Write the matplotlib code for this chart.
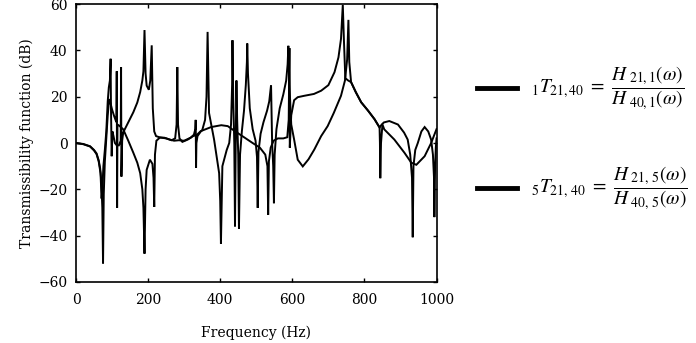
import matplotlib.pyplot as plt
from matplotlib.lines import Line2D

plt.rcParams['font.family'] = 'DejaVu Serif'
plt.rcParams['mathtext.fontset'] = 'stix'

# (frequency Hz, transmissibility dB) vertices for each curve
curve1 = [(0, 0), (20, -0.4), (39, -1.4), (50, -3), (57, -4.5), (63, -7.5), (67, -11),
          (70, -16), (73, -28), (75, -52), (77, -22), (80, -8), (84, 2), (88, 12), (92, 19),
          (96, 17), (100, 14.5), (106, 11.5), (112, 9), (113, 31), (114, -28), (115, 8),
          (120, 7.5), (131, 5.9), (145, 1), (159, -4.2), (170, -8.5), (178, -13), (184, -20),
          (187, -28), (190, -47.8), (193, -20), (196, -11.6), (205, -7.2), (212, -9), (215, -15),
          (217, -27.6), (219, -5), (223, 1), (233, 2.4), (245, 2.3), (260, 1.5), (272, 1),
          (285, 1.2), (300, 1), (318, 2.3), (327, 3.6), (331, 6), (332, 10), (333, -10.7),
          (334, 0), (337, 3), (347, 5.2), (375, 6.9), (403, 7.7), (421, 7.3), (440, 5.2),
          (468, 2.3), (490, 0), (510, -2), (525, -5), (531, -10), (533, -31), (535, -8),
          (540, -2), (548, 1), (560, 2), (575, 2), (586, 2.5), (590, 10), (592, 41), (593, -2),
          (597, 12), (605, 18.5), (615, 19.8), (633, 20.4), (660, 21.2), (680, 22.6), (700, 25),
          (717, 30.6), (728, 37), (735, 45), (740, 59.7), (743, 45), (747, 28), (755, 27),
          (763, 26.3), (776, 22), (791, 17.6), (810, 14), (828, 10.3), (842, 6.7), (843, 0),
          (844, -15.2), (846, 0), (850, 8), (855, 5.9), (883, 1.5), (911, -4.2), (930, -8.5),
          (944, -9.4), (967, -5.7), (985, 0), (1000, 6)]

curve5 = [(0, 0), (20, -0.5), (39, -1.5), (50, -3.2), (57, -4.8), (63, -8), (68, -13),
          (71, -24), (73, -20), (76, -10), (80, -3), (84, 5), (88, 18), (91, 24), (94, 27),
          (96, 36.4), (97, 15), (99, -5.7), (101, 5), (104, 3), (108, 0), (113, -1), (119, -1),
          (124, 1), (125, 32.8), (126, -14.5), (128, 1), (131, 4.6), (145, 9), (159, 13.3),
          (170, 17.5), (178, 22), (184, 27), (187, 31), (190, 48.8), (193, 30), (196, 24.8),
          (202, 23), (206, 27), (210, 42.2), (213, 15), (217, 5), (222, 3), (233, 2.4),
          (250, 2), (265, 1.2), (275, 2), (279, 8), (281, 32.8), (283, 8), (287, 2), (295, 0.5),
          (310, 1.5), (325, 3), (335, 3.5), (345, 5), (350, 5.5), (358, 10), (362, 20),
          (365, 48), (369, 13), (383, 1.5), (397, -13), (400, -25), (402, -43.5), (406, -10),
          (418, -3), (425, 0), (430, 8), (433, 25), (434, 44.4), (436, 20), (439, 0), (441, -36),
          (443, 0), (445, 27), (447, 10), (450, -5), (452, -37), (455, -5), (460, 5), (466, 14),
          (471, 25), (474, 35), (475, 43), (477, 30), (482, 15), (490, 6), (498, 1), (502, -6),
          (504, -28), (506, -4), (512, 4), (520, 9), (530, 14), (536, 18), (539, 22), (541, 25),
          (544, 0), (547, -10), (549, -26), (551, -5), (556, 6), (565, 15), (575, 21), (583, 27),
          (587, 34), (589, 42), (592, 25), (597, 8), (605, 1.5), (615, -7.2), (629, -10.1),
          (645, -7), (661, -2.8), (680, 3), (698, 7.3), (715, 13), (735, 20.4), (746, 27),
          (752, 36), (755.6, 53.2), (758, 35), (763, 26.3), (776, 22), (791, 17.6), (810, 14),
          (828, 10.3), (842, 6.7), (848, 8), (854, 8.9), (869, 9.5), (893, 8), (910, 4.5),
          (920, 1.5), (927, -5), (932, -15), (934, -40.7), (936, -10), (941, -3), (948, 0),
          (958, 5), (967, 6.9), (977, 5), (985, 1.5), (990, -5), (993, -15), (994, -32),
          (996, -10), (998, -2), (1000, 2)]

xticks = [0, 200, 400, 600, 800, 1000]
yticks = [-60, -40, -20, 0, 20, 40, 60]

labels = [r'${}_{1}T_{21,40}\ =\ \dfrac{H_{\ 21,1}(\omega)}{H_{\ 40,1}(\omega)}$',
          r'${}_{5}T_{21,\,40}\ =\ \dfrac{H_{\ 21,\,5}(\omega)}{H_{\ 40,\,5}(\omega)}$']

fig = plt.figure(figsize=(6.96, 3.43), dpi=100)
ax = fig.add_axes([0.1092, 0.178, 0.518, 0.810])

for c in (curve1, curve5):
    f, t = zip(*c)
    ax.plot(f, t, color='k', lw=1.4, solid_joinstyle='miter')

ax.set_xlim(0, 1000)
ax.set_ylim(-60, 60)
ax.set_xticks(xticks)
ax.set_yticks(yticks)
ax.set_yticklabels([str(v).replace('-', '\u2212') for v in yticks])
ax.tick_params(direction='in', length=3, width=1, top=True, right=True, labelsize=10)
ax.tick_params(axis='x', pad=8)
ax.tick_params(axis='y', pad=6)
for s in ax.spines.values():
    s.set_linewidth(1.2)

ax.set_xlabel('Frequency (Hz)', fontsize=10, labelpad=13)
ax.set_ylabel('Transmissibility function (dB)', fontsize=10, labelpad=3)

# legend drawn by hand at the right of the axes
for ypix, lab in zip([88, 188], labels):
    yf = 1 - ypix / 343
    fig.add_artist(Line2D([477 / 696, 517 / 696], [yf, yf], color='k', lw=3.5,
                          transform=fig.transFigure))
    fig.text(531 / 696, yf, lab, fontsize=14, va='center', ha='left')

fig.savefig('out.png', dpi=100)
